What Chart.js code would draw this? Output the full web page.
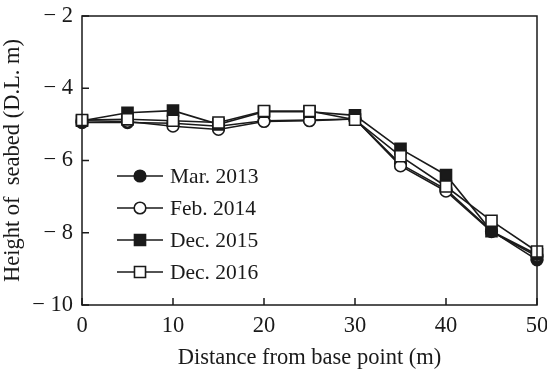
<!DOCTYPE html>
<html>
<head>
<meta charset="utf-8">
<script src="https://cdn.jsdelivr.net/npm/chart.js@4/dist/chart.umd.min.js"></script>
<style>
  html, body { margin: 0; padding: 0; background: #fff; }
  #wrap { width: 547px; height: 370px; }
</style>
</head>
<body>
<div id="wrap"><canvas id="seabedChart" width="547" height="370"></canvas></div>
<script>
// Datos
const distances = [0, 5, 10, 15, 20, 25, 30, 35, 40, 45, 50];
const seriesNames = ['Mar. 2013', 'Feb. 2014', 'Dec. 2015', 'Dec. 2016'];
const mar2013 = [-4.95, -4.95, -4.97, -5.05, -4.90, -4.88, -4.85, -6.10, -6.80, -7.95, -8.75];
const feb2014 = [-4.90, -4.92, -5.05, -5.14, -4.92, -4.90, -4.85, -6.15, -6.85, -7.97, -8.65];
const dec2015 = [-4.90, -4.68, -4.62, -5.00, -4.65, -4.65, -4.75, -5.68, -6.40, -7.96, -8.60];
const dec2016 = [-4.88, -4.86, -4.90, -4.95, -4.63, -4.63, -4.87, -5.88, -6.72, -7.67, -8.52];
const xTicks = [0, 10, 20, 30, 40, 50];
const yTicks = [-10, -8, -6, -4, -2];

const INK = '#1a1a1a';
const FONT = "'Liberation Serif', 'DejaVu Serif', serif";

// estilo de cada serie: circulo/cuadrado, relleno o vacio
const markerStyles = [
    { pointStyle: 'circle', fill: INK, radius: 5.8 },
    { pointStyle: 'circle', fill: '#fff', radius: 5.8 },
    { pointStyle: 'rect', fill: INK, radius: 7.8 },
    { pointStyle: 'rect', fill: '#fff', radius: 7.8 }
];

const allSeries = [mar2013, feb2014, dec2015, dec2016];

function toPoints(values) {
    return distances.map((d, i) => ({ x: d, y: values[i] }));
}

// quitar el relleno automatico que Chart.js deja para las etiquetas extremas
function noAutoPadding(scale) {
    scale.paddingTop = 0;
    scale.paddingBottom = 0;
    scale.paddingLeft = 0;
    scale.paddingRight = 0;
}

// Marco completo y marcas de escala hacia dentro
const frameTicks = {
    id: 'frameTicks',
    afterDraw(chart) {
        const { ctx, chartArea } = chart;
        const xs = chart.scales.x;
        const ys = chart.scales.y;
        ctx.save();
        ctx.strokeStyle = INK;
        ctx.lineWidth = 1.5;
        ctx.strokeRect(chartArea.left, chartArea.top, chartArea.right - chartArea.left, chartArea.bottom - chartArea.top);
        ctx.beginPath();
        xTicks.forEach(v => {
            const px = xs.getPixelForValue(v);
            ctx.moveTo(px, chartArea.bottom);
            ctx.lineTo(px, chartArea.bottom - 7);
        });
        yTicks.forEach(v => {
            const py = ys.getPixelForValue(v);
            ctx.moveTo(chartArea.left, py);
            ctx.lineTo(chartArea.left + 7, py);
        });
        ctx.stroke();
        ctx.restore();
    }
};

// Leyenda dibujada dentro del area del grafico
const innerLegend = {
    id: 'innerLegend',
    afterDraw(chart) {
        const { ctx, chartArea } = chart;
        const x0 = chartArea.left + 35;
        const x1 = chartArea.left + 81;
        const mx = (x0 + x1) / 2;
        ctx.save();
        ctx.font = '21.5px ' + FONT;
        ctx.textBaseline = 'middle';
        ctx.fillStyle = INK;
        seriesNames.forEach((name, i) => {
            const y = chartArea.top + 160 + i * 32;
            const st = markerStyles[i];
            ctx.strokeStyle = INK;
            ctx.lineWidth = 1.5;
            ctx.beginPath();
            ctx.moveTo(x0, y);
            ctx.lineTo(x1, y);
            ctx.stroke();
            ctx.beginPath();
            if (st.pointStyle === 'circle') {
                ctx.arc(mx, y, st.radius, 0, Math.PI * 2);
            } else {
                const h = st.radius * Math.SQRT1_2;
                ctx.rect(mx - h, y - h, 2 * h, 2 * h);
            }
            ctx.fillStyle = st.fill;
            ctx.fill();
            ctx.lineWidth = 1.6;
            ctx.stroke();
            ctx.fillStyle = INK;
            ctx.fillText(name, x1 + 7, y + 1);
        });
        ctx.restore();
    }
};

const datasets = allSeries.map((values, i) => ({
    label: seriesNames[i],
    data: toPoints(values),
    borderColor: INK,
    borderWidth: 1.6,
    pointStyle: markerStyles[i].pointStyle,
    pointRadius: markerStyles[i].radius,
    pointHoverRadius: markerStyles[i].radius,
    pointBackgroundColor: markerStyles[i].fill,
    pointBorderColor: INK,
    pointBorderWidth: 1.6,
    tension: 0,
    fill: false,
    clip: false,
    order: allSeries.length - i
}));

new Chart(document.getElementById('seabedChart').getContext('2d'), {
    type: 'line',
    data: { datasets: datasets },
    options: {
        responsive: false,
        animation: false,
        devicePixelRatio: 1,
        layout: { padding: { top: 16, right: 10, left: 0, bottom: 0 } },
        plugins: {
            legend: { display: false },
            tooltip: { enabled: false }
        },
        scales: {
            x: {
                type: 'linear',
                min: 0,
                max: 50,
                afterBuildTicks: scale => { scale.ticks = xTicks.map(v => ({ value: v })); },
                afterFit: scale => { scale.height = 65; noAutoPadding(scale); },
                grid: { display: false, drawTicks: false },
                border: { display: false },
                ticks: {
                    color: INK,
                    padding: 8,
                    maxRotation: 0,
                    font: { family: FONT, size: 22.5 },
                    callback: v => String(v)
                },
                title: {
                    display: true,
                    text: 'Distance from base point (m)',
                    color: INK,
                    font: { family: FONT, size: 22.5 },
                    padding: { top: 0, bottom: -2 }
                }
            },
            y: {
                type: 'linear',
                min: -10,
                max: -2,
                afterBuildTicks: scale => { scale.ticks = yTicks.map(v => ({ value: v })); },
                afterFit: scale => { scale.width = 82; noAutoPadding(scale); },
                grid: { display: false, drawTicks: false },
                border: { display: false },
                ticks: {
                    color: INK,
                    padding: 9,
                    font: { family: FONT, size: 22.5 },
                    callback: v => '\u2212 ' + Math.abs(v)
                },
                title: {
                    display: true,
                    text: 'Height of  seabed (D.L. m)',
                    color: INK,
                    font: { family: FONT, size: 22.5 },
                    padding: { top: 0, bottom: 0 }
                }
            }
        }
    },
    plugins: [frameTicks, innerLegend]
});
</script>
</body>
</html>
